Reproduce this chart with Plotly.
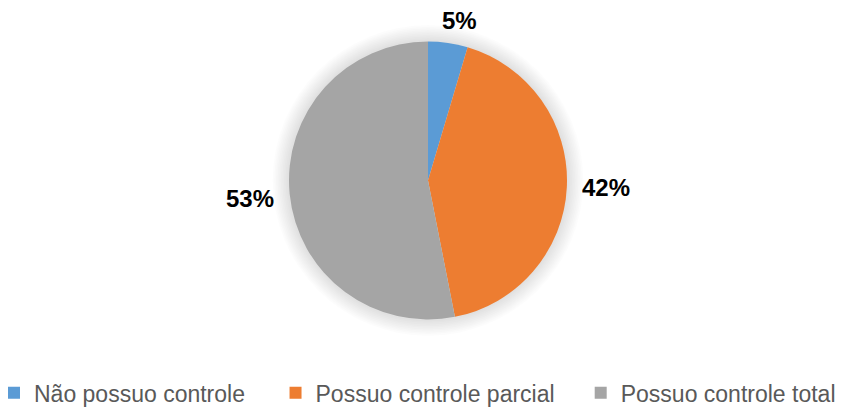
import plotly.graph_objects as go

labels = ["Não possuo controle", "Possuo controle parcial", "Possuo controle total"]
values = [4.6, 42.3, 53.1]
colors = ["#5B9BD5", "#ED7D31", "#A5A5A5"]
pct_text = ["5%", "42%", "53%"]

# page body has an 8px margin, so the figure is drawn 8px smaller and everything
# below is measured in figure pixels (reference pixels minus 8)
W, H = 843, 400
PH = 360                      # plot-area height, legend sits in the bottom margin
cx, cy, r = 420, 172.5, 139   # pie centre / radius

# percentage label centres (px)
label_px = [(451, 13), (598, 179), (242, 190)]
# trailing spaces widen the legend entries like in the original
legend_pad = ["\u00a0" * 4, "\u00a0" * 3 + "\u200a", ""]


def px_x(x):
    return x / W


def px_y(y):
    return (PH - y) / PH


fig = go.Figure()
fig.add_trace(go.Pie(
    labels=[lab + pad for lab, pad in zip(labels, legend_pad)],
    values=values,
    customdata=labels,
    sort=False,
    direction="clockwise",
    rotation=0,
    textinfo="none",
    hovertemplate="%{customdata}: %{percent}<extra></extra>",
    marker=dict(colors=colors, line=dict(width=0)),
    domain=dict(x=[px_x(cx - r), px_x(cx + r)], y=[px_y(cy + r), px_y(cy - r)]),
))

# soft glow around the pie
shapes = []
for i in range(10):
    rr = r + 2 + i * 1.6
    shapes.append(dict(
        type="circle", xref="paper", yref="paper", layer="below",
        x0=px_x(cx - rr), x1=px_x(cx + rr),
        y0=px_y(cy + rr), y1=px_y(cy - rr),
        fillcolor="rgba(0,0,0,0.012)", line=dict(width=0),
    ))

annotations = [
    dict(x=px_x(x), y=px_y(y), xref="paper", yref="paper", text="<b>%s</b>" % t,
         showarrow=False, xanchor="center", yanchor="middle",
         font=dict(family="Liberation Sans, Arial", size=24, color="#000000"))
    for t, (x, y) in zip(pct_text, label_px)
]

fig.update_layout(
    width=W,
    height=H,
    margin=dict(l=0, r=0, t=0, b=H - PH, autoexpand=False),
    paper_bgcolor="white",
    plot_bgcolor="white",
    shapes=shapes,
    annotations=annotations,
    showlegend=True,
    legend=dict(
        orientation="h",
        x=px_x(-14),
        xanchor="left",
        y=-0.009,
        yanchor="top",
        font=dict(family="Liberation Sans, Arial", size=23, color="#595959"),
        itemwidth=30,
        traceorder="normal",
    ),
)

fig.write_html("out.html")
